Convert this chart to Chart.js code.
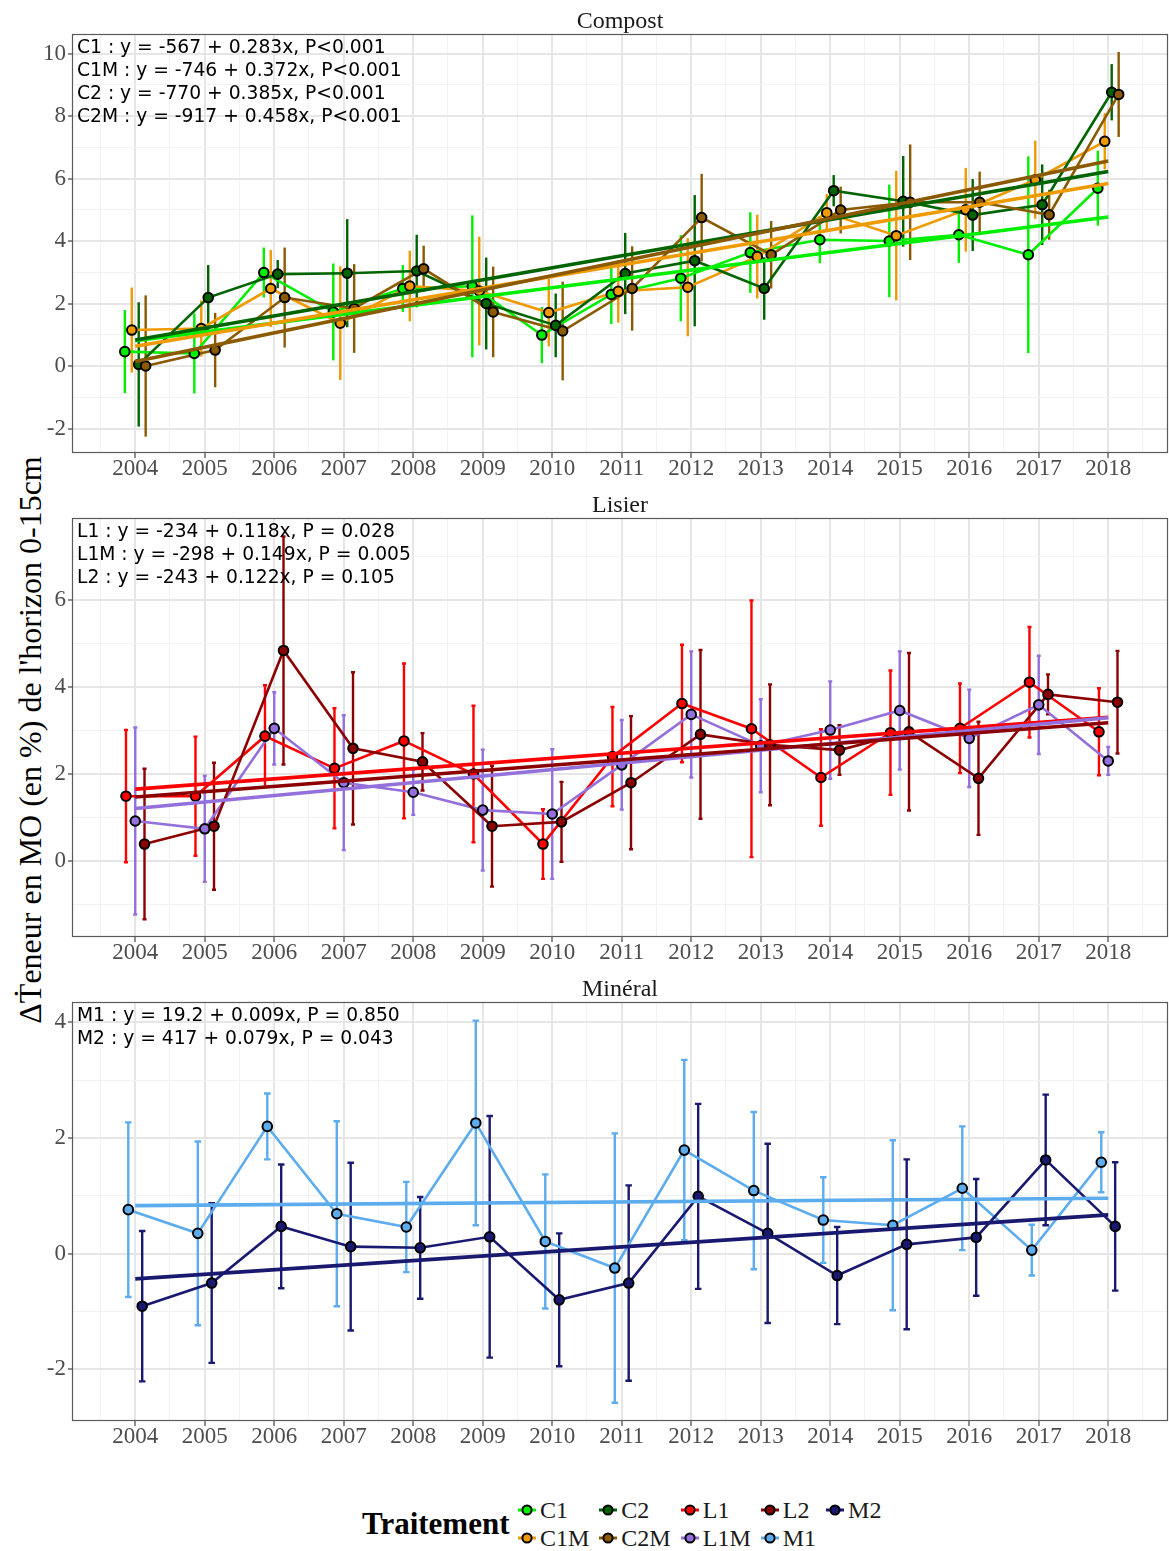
<!DOCTYPE html>
<html>
<head>
<meta charset="utf-8">
<script src="https://cdn.jsdelivr.net/npm/chart.js@4.4.1/dist/chart.umd.min.js"></script>
<style>
  body { margin: 0; background: #fff; }
  #page { position: relative; width: 1169px; height: 1551px; overflow: hidden; background: #fff;
          font-family: "Liberation Serif", "Times New Roman", serif; }
  canvas { position: absolute; left: 0; }
  .strip { position: absolute; left: 72px; width: 1096px; text-align: center; font-size: 24px;
           line-height: 28px; color: #1a1a1a; z-index: 2; }
  .eq { position: absolute; left: 77px; font-family: "DejaVu Sans", sans-serif; font-size: 18.7px;
        line-height: 23px; color: #000; white-space: pre; z-index: 2; }
  #ytitle { position: absolute; left: 30px; top: 740px; transform: translate(-50%, -50%) rotate(-90deg);
            font-size: 32px; white-space: nowrap; color: #000; }
  #legend-title { position: absolute; left: 362px; top: 1506px; font-size: 31px; font-weight: bold;
                  line-height: 36px; color: #000; }
  #legend { position: absolute; left: 518px; top: 1496px; display: flex; column-gap: 10px; }
  .lcol { display: flex; flex-direction: column; }
  .litem { display: flex; align-items: center; height: 28px; font-size: 24px; color: #1a1a1a; }
  .litem svg { margin-right: 4px; }
</style>
</head>
<body>
<div id="page">
  <div id="ytitle">ΔṪeneur en MO (en %) de l'horizon 0-15cm</div>
  <div id="legend-title">Traitement</div>
  <div id="legend"></div>
</div>
<script>
// ---- data -------------------------------------------------------------
const years = [2004, 2005, 2006, 2007, 2008, 2009, 2010, 2011, 2012, 2013, 2014, 2015, 2016, 2017, 2018];

// Compost
const compostGroups = ['C1', 'C1M', 'C2', 'C2M'];
const meanC1  = [0.46, 0.40, 2.99, 1.73, 2.48, 2.55, 0.99, 2.29, 2.81, 3.63, 4.04, 4.00, 4.20, 3.56, 5.69];
const errC1   = [1.33, 1.28, 0.80, 1.55, 0.75, 2.27, 0.90, 0.95, 1.38, 1.29, 0.75, 1.80, 0.90, 3.15, 1.20];
const meanC1M = [1.15, 1.20, 2.48, 1.37, 2.56, 2.40, 1.71, 2.39, 2.52, 3.50, 4.90, 4.17, 5.00, 5.96, 7.19];
const errC1M  = [1.36, 0.90, 1.23, 1.82, 1.13, 1.74, 1.08, 1.00, 1.57, 1.34, 0.60, 2.07, 1.34, 1.25, 0.90];
const meanC2  = [0.05, 2.19, 2.94, 2.97, 3.04, 2.00, 1.30, 2.96, 3.37, 2.48, 5.61, 5.27, 4.83, 5.16, 8.76];
const errC2   = [1.99, 1.04, 0.45, 1.73, 1.16, 1.47, 1.02, 1.30, 2.10, 1.00, 0.50, 1.45, 1.15, 1.29, 0.90];
const meanC2M = [0.00, 0.51, 2.19, 1.84, 3.11, 1.73, 1.12, 2.48, 4.75, 3.56, 4.99, 5.24, 5.24, 4.84, 8.69];
const errC2M  = [2.26, 1.19, 1.60, 1.42, 0.74, 1.45, 1.58, 1.35, 1.40, 1.08, 0.75, 1.85, 0.98, 0.80, 1.36];
const compostSlopes = [0.283, 0.372, 0.385, 0.458];
const compostIntercepts = ['-567', '-746', '-770', '-917'];
const compostP = ['P<0.001', 'P<0.001', 'P<0.001', 'P<0.001'];

// Lisier
const lisierGroups = ['L1', 'L1M', 'L2'];
const meanL1  = [1.49, 1.49, 2.87, 2.13, 2.76, 2.00, 0.39, 2.40, 3.62, 3.04, 1.92, 2.95, 3.05, 4.11, 2.97];
const errL1   = [1.52, 1.37, 1.17, 1.38, 1.78, 1.57, 0.80, 1.14, 1.35, 2.95, 1.11, 1.43, 1.03, 1.27, 1.00];
const meanL1M = [0.92, 0.74, 3.05, 1.80, 1.58, 1.17, 1.08, 2.21, 3.37, 2.65, 3.01, 3.46, 2.82, 3.59, 2.30];
const errL1M  = [2.15, 1.22, 0.83, 1.55, 0.52, 1.39, 1.49, 1.03, 1.45, 1.07, 1.12, 1.36, 1.12, 1.13, 0.32];
const meanL2  = [0.39, 0.80, 4.84, 2.59, 2.28, 0.80, 0.90, 1.80, 2.91, 2.67, 2.55, 2.97, 1.90, 3.83, 3.65];
const errL2   = [1.73, 1.46, 2.62, 1.75, 0.66, 1.39, 0.92, 1.53, 1.94, 1.39, 0.57, 1.81, 1.30, 0.46, 1.18];
const lisierSlopes = [0.118, 0.149, 0.122];
const lisierIntercepts = ['-234', '-298', '-243'];
const lisierP = ['P = 0.028', 'P = 0.005', 'P = 0.105'];

// Minéral
const mineralGroups = ['M1', 'M2'];
const meanM1 = [0.76, 0.35, 2.20, 0.69, 0.46, 2.26, 0.21, -0.25, 1.79, 1.09, 0.58, 0.49, 1.13, 0.06, 1.58];
const errM1  = [1.51, 1.59, 0.57, 1.60, 0.78, 1.77, 1.16, 2.33, 1.56, 1.36, 0.74, 1.47, 1.07, 0.44, 0.52];
const meanM2 = [-0.91, -0.51, 0.47, 0.12, 0.10, 0.29, -0.80, -0.51, 0.99, 0.35, -0.38, 0.16, 0.28, 1.62, 0.47];
const errM2  = [1.30, 1.38, 1.07, 1.45, 0.88, 2.09, 1.15, 1.69, 1.60, 1.55, 0.84, 1.47, 1.01, 1.13, 1.11];
const mineralSlopes = [0.009, 0.079];
const mineralIntercepts = ['19.2', '417'];
const mineralP = ['P = 0.850', 'P = 0.043'];

// Legend order (filled column by column, two rows)
const legendOrder = ['C1', 'C1M', 'C2', 'C2M', 'L1', 'L1M', 'L2', 'M1', 'M2'];

// ---- styling ----------------------------------------------------------
const colours = {
  C1: '#00EE00', C1M: '#EE9A00', C2: '#006400', C2M: '#8B5A00',
  L1: '#FF0000', L1M: '#9370DB', L2: '#8B0000',
  M1: '#5CACEE', M2: '#191970'
};
const SERIF = '"Liberation Serif", "Times New Roman", serif';
const X_MIN = 2003.09, X_MAX = 2018.86;
const DODGE = 0.4;

const panels = [
  { id: 'compost', title: 'Compost', top: 34, bottom: 453, yMin: -2.784, yMax: 10.624, yFrom: -2, yTo: 10, cap: 0,
    groups: compostGroups, means: [meanC1, meanC1M, meanC2, meanC2M], errs: [errC1, errC1M, errC2, errC2M],
    slopes: compostSlopes, intercepts: compostIntercepts, p: compostP },
  { id: 'lisier', title: 'Lisier', top: 518, bottom: 937, yMin: -1.747, yMax: 7.885, yFrom: -1, yTo: 7, cap: 4,
    groups: lisierGroups, means: [meanL1, meanL1M, meanL2], errs: [errL1, errL1M, errL2],
    slopes: lisierSlopes, intercepts: lisierIntercepts, p: lisierP },
  { id: 'mineral', title: 'Minéral', top: 1002, bottom: 1421, yMin: -2.896, yMax: 4.352, yFrom: -2, yTo: 4, cap: 6.5,
    groups: mineralGroups, means: [meanM1, meanM2], errs: [errM1, errM2],
    slopes: mineralSlopes, intercepts: mineralIntercepts, p: mineralP }
];

const page = document.getElementById('page');
const TOP_PAD = 14, X_AXIS_H = 44;

function range(from, to, step) {
  const out = [];
  for (let v = from; v <= to + 1e-9; v += step) out.push(Math.round(v * 10) / 10);
  return out;
}
const xTickValues = range(2003.5, 2018.5, 0.5);

// error bars drawn underneath the series, through the chart's own scales
const errorBarPlugin = {
  id: 'errorBars',
  beforeDatasetsDraw(chart) {
    const cfg = chart.config.options.plugins.errorBars;
    const { ctx, chartArea, scales } = chart;
    ctx.save();
    ctx.beginPath();
    ctx.rect(chartArea.left, chartArea.top, chartArea.width, chartArea.height);
    ctx.clip();
    cfg.series.forEach(s => {
      ctx.strokeStyle = s.colour;
      ctx.lineWidth = 2.4;
      ctx.lineCap = 'butt';
      s.points.forEach(p => {
        const x = scales.x.getPixelForValue(p.x);
        const y1 = scales.y.getPixelForValue(p.y - p.e);
        const y2 = scales.y.getPixelForValue(p.y + p.e);
        ctx.beginPath();
        ctx.moveTo(x, y1);
        ctx.lineTo(x, y2);
        if (cfg.cap > 0) {
          const h = cfg.cap / 2;
          ctx.moveTo(x - h, y1); ctx.lineTo(x + h, y1);
          ctx.moveTo(x - h, y2); ctx.lineTo(x + h, y2);
        }
        ctx.stroke();
      });
    });
    ctx.restore();
  }
};

// panel frame on top of everything
const framePlugin = {
  id: 'frame',
  afterDraw(chart) {
    const { ctx, chartArea } = chart;
    ctx.save();
    ctx.strokeStyle = '#5a5a5a';
    ctx.lineWidth = 1.2;
    ctx.strokeRect(chartArea.left + 0.5, chartArea.top + 0.5, chartArea.width - 1, chartArea.height - 1);
    ctx.restore();
  }
};

panels.forEach(panel => {
  // strip title
  const strip = document.createElement('div');
  strip.className = 'strip';
  strip.style.top = (panel.top - 28) + 'px';
  strip.textContent = panel.title;
  page.appendChild(strip);

  // regression equations
  const eq = document.createElement('div');
  eq.className = 'eq';
  eq.style.top = (panel.top + 0.5) + 'px';
  eq.textContent = panel.groups.map((g, i) =>
    `${g} : y = ${panel.intercepts[i]} + ${panel.slopes[i].toFixed(3)}x, ${panel.p[i]}`).join('\n');
  page.appendChild(eq);

  const canvas = document.createElement('canvas');
  const h = panel.bottom - panel.top + TOP_PAD + X_AXIS_H;
  canvas.width = 1169; canvas.height = h;
  canvas.style.top = (panel.top - TOP_PAD) + 'px';
  canvas.style.width = '1169px'; canvas.style.height = h + 'px';
  page.appendChild(canvas);

  const n = panel.groups.length;
  const step = DODGE / n;
  const lineSets = [], pointSets = [], trendSets = [], bars = [];
  panel.groups.forEach((g, i) => {
    const off = (i - (n - 1) / 2) * step;
    const pts = years.map((yr, k) => ({ x: yr + off, y: panel.means[i][k] }));
    bars.push({ colour: colours[g], points: years.map((yr, k) => ({ x: yr + off, y: panel.means[i][k], e: panel.errs[i][k] })) });
    lineSets.push({
      label: g, data: pts, borderColor: colours[g], borderWidth: 2.6, pointRadius: 0,
      fill: false, tension: 0, order: 20 + (n - 1 - i)
    });
    pointSets.push({
      label: g + ' points', data: pts, showLine: false, pointRadius: 4.8, pointBorderWidth: 2,
      pointBackgroundColor: colours[g], pointBorderColor: '#000', borderColor: '#000',
      order: 10 + (n - 1 - i)
    });
    // least-squares line: passes through the centroid with the reported slope
    const xBar = years.reduce((a, b) => a + b, 0) / years.length;
    const yBar = panel.means[i].reduce((a, b) => a + b, 0) / years.length;
    const first = years[0], last = years[years.length - 1];
    trendSets.push({
      label: g + ' trend',
      data: [{ x: first, y: yBar + panel.slopes[i] * (first - xBar) },
             { x: last, y: yBar + panel.slopes[i] * (last - xBar) }],
      borderColor: colours[g], borderWidth: 3.6, pointRadius: 0, fill: false,
      order: n - 1 - i
    });
  });

  const yTickValues = range(panel.yFrom, panel.yTo, 1);
  const yMajor = v => Math.abs(v % 2) < 1e-9;
  const xMajor = v => Math.abs(v - Math.round(v)) < 1e-9;

  new Chart(canvas, {
    type: 'line',
    data: { datasets: [...lineSets, ...pointSets, ...trendSets] },
    plugins: [errorBarPlugin, framePlugin],
    options: {
      responsive: false,
      animation: false,
      devicePixelRatio: 1,
      layout: { autoPadding: false, padding: { top: TOP_PAD, left: 0, right: 1, bottom: 0 } },
      plugins: {
        legend: { display: false },
        tooltip: { enabled: false },
        errorBars: { series: bars, cap: panel.cap }
      },
      scales: {
        x: {
          type: 'linear', min: X_MIN, max: X_MAX,
          afterBuildTicks: s => { s.ticks = xTickValues.map(v => ({ value: v })); },
          afterFit: s => { s.height = X_AXIS_H; s.paddingLeft = 0; s.paddingRight = 0; },
          border: { display: false },
          grid: {
            color: c => xMajor(c.tick.value) ? '#e6e6e6' : '#f2f2f2',
            lineWidth: c => xMajor(c.tick.value) ? 2 : 1,
            tickColor: c => xMajor(c.tick.value) ? '#444' : 'rgba(0,0,0,0)',
            tickWidth: 1.2, tickLength: 5, drawTicks: true
          },
          ticks: {
            autoSkip: false, maxRotation: 0, minRotation: 0, padding: -3,
            color: '#4d4d4d', font: { family: SERIF, size: 23 },
            callback: v => xMajor(v) ? String(Math.round(v)) : ''
          }
        },
        y: {
          type: 'linear', min: panel.yMin, max: panel.yMax,
          afterBuildTicks: s => { s.ticks = yTickValues.map(v => ({ value: v })); },
          afterFit: s => { s.width = 72; s.paddingTop = 0; s.paddingBottom = 0; },
          border: { display: false },
          grid: {
            color: c => yMajor(c.tick.value) ? '#e6e6e6' : '#f2f2f2',
            lineWidth: c => yMajor(c.tick.value) ? 2 : 1,
            tickColor: c => yMajor(c.tick.value) ? '#444' : 'rgba(0,0,0,0)',
            tickWidth: 1.2, tickLength: 4, drawTicks: true
          },
          ticks: {
            autoSkip: false, padding: 2,
            color: '#4d4d4d', font: { family: SERIF, size: 23 },
            callback: v => yMajor(v) ? String(v) : ''
          }
        }
      }
    }
  });
});

// legend: two rows, filled column by column
const legend = document.getElementById('legend');
for (let c = 0; c < Math.ceil(legendOrder.length / 2); c++) {
  const col = document.createElement('div');
  col.className = 'lcol';
  legendOrder.slice(c * 2, c * 2 + 2).forEach(g => {
    const item = document.createElement('div');
    item.className = 'litem';
    item.innerHTML =
      `<svg width="18" height="18" viewBox="0 0 18 18">` +
      `<line x1="0" y1="9" x2="18" y2="9" stroke="${colours[g]}" stroke-width="3"/>` +
      `<circle cx="9" cy="9" r="4.6" fill="${colours[g]}" stroke="#000" stroke-width="2"/></svg>` +
      `<span>${g}</span>`;
    col.appendChild(item);
  });
  legend.appendChild(col);
}
</script>
</body>
</html>
